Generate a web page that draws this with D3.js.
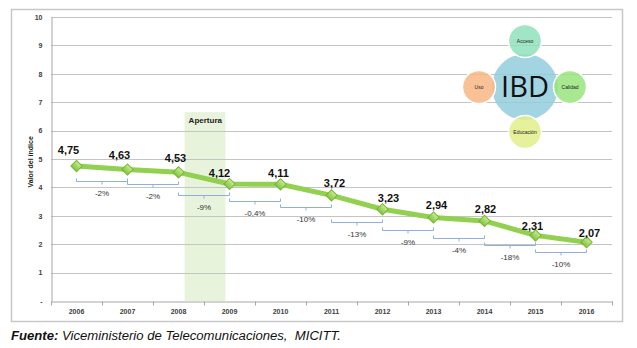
<!DOCTYPE html>
<html>
<head>
<meta charset="utf-8">
<script src="https://cdn.jsdelivr.net/npm/d3@7/dist/d3.min.js"></script>
<style>
  body { margin: 0; background: #fff; }
  svg { display: block; font-family: "Liberation Sans", Arial, sans-serif; }
</style>
</head>
<body>
<svg id="chart" width="637" height="348"></svg>
<script>
// Valor del índice (IBD) por año
const years = ['2006', '2007', '2008', '2009', '2010', '2011', '2012', '2013', '2014', '2015', '2016'];
const values = [4.75, 4.63, 4.53, 4.12, 4.11, 3.72, 3.23, 2.94, 2.82, 2.31, 2.07];
const valueLabels = ['4,75', '4,63', '4,53', '4,12', '4,11', '3,72', '3,23', '2,94', '2,82', '2,31', '2,07'];
const changeLabels = ['-2%', '-2%', '-9%', '-0,4%', '-10%', '-13%', '-9%', '-4%', '-18%', '-10%'];
const yTicks = [0, 1, 2, 3, 4, 5, 6, 7, 8, 9, 10];
const pillars = ['Acceso', 'Calidad', 'Educación', 'Uso'];

const svg = d3.select('#chart');

// outer frame
svg.append('rect')
    .attr('x', 11.5).attr('y', 9.5)
    .attr('width', 611).attr('height', 312)
    .attr('fill', '#fff')
    .attr('stroke', '#c8c8c8')
    .attr('stroke-width', 1.5);

const x = d3.scaleBand().domain(years).range([51, 612]).paddingInner(0).paddingOuter(0);
const y = d3.scaleLinear().domain([0, 10]).range([301, 17]);
const bw = x.bandwidth();
const cx = d => x(d) + bw / 2;

// apertura band (behind gridlines)
const apX0 = x('2008') + bw * 0.62;
const apX1 = x('2009') + bw * 0.42;
svg.append('rect')
    .attr('x', apX0).attr('y', y(6.65))
    .attr('width', apX1 - apX0).attr('height', y(0) - y(6.65))
    .attr('fill', '#e8f3dc');

// gridlines
svg.append('g')
    .selectAll('line')
    .data(yTicks.filter(t => t > 0))
    .join('line')
    .attr('x1', 51).attr('x2', 612)
    .attr('y1', d => Math.round(y(d)) + 0.5)
    .attr('y2', d => Math.round(y(d)) + 0.5)
    .attr('stroke', '#c4c4c4')
    .attr('stroke-width', 1);

svg.append('text')
    .attr('x', apX0 + 4).attr('y', y(6.65) + 11)
    .attr('font-size', 8).attr('font-weight', 'bold')
    .attr('fill', '#222')
    .text('Apertura');

// y axis
const yAxis = d3.axisLeft(y)
    .tickValues(yTicks)
    .tickSize(0)
    .tickPadding(9)
    .tickFormat(d => d === 0 ? '-' : d);
const gy = svg.append('g')
    .attr('transform', 'translate(51.5,0)')
    .call(yAxis);
gy.select('.domain').attr('stroke', '#a6a6a6');
gy.selectAll('text')
    .attr('font-size', 7).attr('font-weight', 'bold')
    .attr('fill', '#404040')
    .attr('font-family', '"Liberation Sans", Arial, sans-serif');

// x axis
const xAxis = d3.axisBottom(x).tickSize(0).tickPadding(8);
const gx = svg.append('g')
    .attr('transform', `translate(0,${Math.round(y(0)) + 0.5})`)
    .call(xAxis);
gx.select('.domain').attr('stroke', '#a6a6a6');
gx.selectAll('text')
    .attr('font-size', 7).attr('font-weight', 'bold')
    .attr('fill', '#404040')
    .attr('font-family', '"Liberation Sans", Arial, sans-serif');
gx.append('g')
    .selectAll('line')
    .data(years.map(d => x(d)).concat([x(years[years.length - 1]) + bw]))
    .join('line')
    .attr('x1', d => Math.round(d) + 0.5).attr('x2', d => Math.round(d) + 0.5)
    .attr('y1', 0).attr('y2', 4)
    .attr('stroke', '#a6a6a6');

svg.append('text')
    .attr('transform', `translate(33,${y(4.9)}) rotate(-90)`)
    .attr('text-anchor', 'middle')
    .attr('font-size', 7).attr('font-weight', 'bold')
    .attr('fill', '#222')
    .text('Valor del índice');

// change brackets
const bracketDy = [11, 12, 11, 17, 12, 13, 12, 17, 10, 10];
const brackets = svg.append('g');
changeLabels.forEach((lab, i) => {
    const x0 = cx(years[i]), x1 = cx(years[i + 1]);
    const by = Math.round(y(values[i + 1]) + bracketDy[i]) + 0.5;
    const xm = (x0 + x1) / 2;
    brackets.append('path')
        .attr('d', `M${x0},${by - 3}V${by}H${x1}V${by - 3}M${xm},${by}V${by + 3}`)
        .attr('fill', 'none')
        .attr('stroke', '#8fb0dc')
        .attr('stroke-width', 1);
    brackets.append('text')
        .attr('x', xm).attr('y', by + 14)
        .attr('text-anchor', 'middle')
        .attr('font-size', 8)
        .attr('fill', '#333')
        .text(lab);
});

// line
const line = d3.line().x((d, i) => cx(years[i])).y(d => y(d));
svg.append('path')
    .datum(values)
    .attr('d', line)
    .attr('fill', 'none')
    .attr('stroke', '#92d050')
    .attr('stroke-width', 5)
    .attr('stroke-linejoin', 'round');

// markers
const defs = svg.append('defs');
const grad = defs.append('linearGradient').attr('id', 'mk').attr('x1', 0).attr('y1', 0).attr('x2', 0).attr('y2', 1);
grad.append('stop').attr('offset', 0).attr('stop-color', '#c8ec8c');
grad.append('stop').attr('offset', 1).attr('stop-color', '#84c440');
svg.append('g')
    .selectAll('path')
    .data(values)
    .join('path')
    .attr('transform', (d, i) => `translate(${cx(years[i])},${y(d)}) rotate(45)`)
    .attr('d', 'M-4,-4H4V4H-4Z')
    .attr('fill', 'url(#mk)')
    .attr('stroke', '#76b43a')
    .attr('stroke-width', 1);

// value labels
const labelDx = [-8, -8, -3, -10, -2, 3, 6, 3, 1, -3, 3];
const labelDy = [-12, -11, -10, -7, -7, -8, -7, -9, -8, -5, -5];
svg.append('g')
    .selectAll('text')
    .data(values)
    .join('text')
    .attr('x', (d, i) => cx(years[i]) + labelDx[i])
    .attr('y', (d, i) => y(d) + labelDy[i])
    .attr('text-anchor', 'middle')
    .attr('font-size', 11).attr('font-weight', 'bold')
    .attr('fill', '#111')
    .text((d, i) => valueLabels[i]);

// IBD diagram
const ibd = svg.append('g').attr('transform', 'translate(525,87)');
ibd.append('circle').attr('r', 33).attr('fill', '#92cddc').attr('opacity', 0.85);
const pillarPos = { 'Acceso': [0, -46], 'Calidad': [45, 0], 'Educación': [0, 45], 'Uso': [-46, 0] };
const pillarCol = { 'Acceso': '#8fe0bb', 'Calidad': '#98e47c', 'Educación': '#e2ef8a', 'Uso': '#f7b784' };
const pg = ibd.selectAll('g.p')
    .data(pillars)
    .join('g')
    .attr('transform', d => `translate(${pillarPos[d][0]},${pillarPos[d][1]})`);
pg.append('circle')
    .attr('r', 16.5)
    .attr('fill', d => pillarCol[d])
    .attr('fill-opacity', 0.85)
    .attr('stroke', '#fff')
    .attr('stroke-width', 1.5);
pg.append('text')
    .attr('text-anchor', 'middle').attr('dy', '0.35em')
    .attr('font-size', 5)
    .attr('fill', '#222')
    .text(d => d);
ibd.append('text')
    .attr('text-anchor', 'middle').attr('dy', '0.36em')
    .attr('font-size', 29)
    .attr('fill', '#111')
    .attr('font-family', '"Open Sans", "Noto Sans", sans-serif')
    .text('IBD');

// source note
const src = svg.append('text')
    .attr('x', 11).attr('y', 340)
    .attr('font-size', 12)
    .attr('font-style', 'italic')
    .attr('fill', '#111')
    .style('white-space', 'pre')
    .attr('textLength', 330)
    .attr('lengthAdjust', 'spacingAndGlyphs');
src.append('tspan').attr('font-weight', 'bold').text('Fuente:');
src.append('tspan').text(' Viceministerio de Telecomunicaciones,  MICITT.');
</script>
</body>
</html>
